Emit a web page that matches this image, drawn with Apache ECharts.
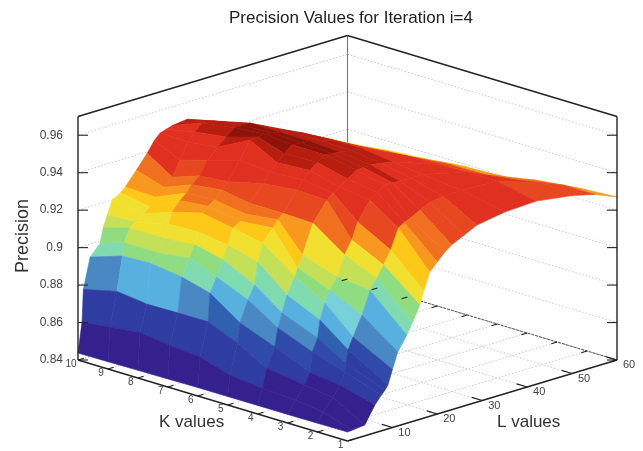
<!DOCTYPE html>
<html><head><meta charset="utf-8">
<style>html,body{margin:0;padding:0;background:#fff}#c{width:643px;height:451px;filter:blur(0.4px)}</style>
<script src="https://cdn.jsdelivr.net/npm/echarts@6/dist/echarts.min.js"></script>
</head><body><div id="c"></div>
<script>
const titleText = 'Precision Values for Iteration i=4';
const kValues = [1,2,3,4,5,6,7,8,9,10];
const lK1  = [0,1,3.85,6.1,7.5,8.3,9,10,11.2,13.2,14.5,16.1,17,18.3,20,21.7,23.2,26,28.8,35,42,50,55,60];
const zK1  = [.8448,.845,.8458,.8548,.859,.861,.8634,.871,.8795,.887,.893,.901,.908,.917,.9212,.9253,.928,.9313,.9345,.937,.9378,.935,.932,.927];
const lK2  = [0,1.2,3.4,5,6.1,6.3,6.8,7.9,9.9,11.7,13.2,14.7,16.3,18,19.3,20.6,22.8,25,28,32,40,50,55,60];
const zK2  = [.8447,.8498,.856,.8615,.8678,.8723,.879,.885,.8953,.9073,.9126,.9185,.9254,.936,.938,.9393,.942,.9446,.9455,.946,.945,.937,.932,.926];
const lK3  = [0,1.8,3.8,5,5.5,6.7,7.2,8.3,9.4,11,12.7,14.3,15.6,18.3,20,21.6,23.3,25,27.5,30,40,50,55,60];
const zK3  = [.8446,.851,.8576,.8635,.874,.8806,.8898,.8981,.904,.91,.9206,.9274,.9361,.9457,.9487,.9515,.9515,.951,.951,.951,.945,.934,.93,.924];
const lK4  = [0,1,2,3.8,4.5,5.4,6.5,8.3,8.9,10,12.3,15.4,16.8,18.3,20,22,23.5,25,27.5,30,40,50,55,60];
const zK4  = [.8446,.853,.863,.8731,.8827,.89,.8988,.9072,.9115,.9177,.933,.943,.9459,.948,.951,.9543,.9546,.955,.954,.953,.9445,.932,.927,.921];
const lK5  = [0,.5,2.2,2.7,4.5,6,6.7,7.8,10,11.2,12.3,15.4,16.8,18.3,20,21.6,23.3,25,27.5,30,40,50,55,60];
const zK5  = [.8445,.8557,.8715,.882,.8929,.8998,.9115,.9208,.9273,.9308,.9335,.9437,.948,.952,.955,.958,.9575,.957,.956,.955,.944,.932,.926,.919];
const lK6  = [0,.5,2.3,2.7,4.2,5.6,6.7,7.8,9.4,10.6,11.6,14.5,16,17.6,19.3,21,23,25,27.5,30,40,50,55,60];
const zK6  = [.8445,.8605,.878,.893,.9004,.9087,.9158,.924,.9265,.9295,.9345,.943,.948,.952,.9555,.959,.9585,.958,.9565,.955,.942,.93,.925,.919];
const lK7  = [0,.45,2.2,3.1,4.9,6,6.7,7.6,9,10.4,12,13.3,16,18.3,20,21.6,23.3,25,27.5,30,40,50,55,60];
const zK7  = [.8443,.862,.878,.8965,.9053,.9116,.918,.9274,.93,.9324,.9365,.94,.9495,.9586,.959,.9595,.959,.958,.956,.954,.941,.929,.923,.917];
const lK8  = [0,.45,2,2.7,4.9,5.8,7,7.6,9.4,10.8,12,13.8,15.5,17.8,19.7,21.6,23.3,25,27.5,30,40,50,55,60];
const zK8  = [.8441,.864,.878,.8994,.903,.9105,.917,.9231,.928,.931,.9345,.938,.945,.9505,.9545,.958,.958,.958,.955,.952,.94,.927,.922,.916];
const lK9  = [0,.45,2,3.2,3.6,4.9,6,8,9.4,10.5,12.5,14.4,16,17.8,19.4,21,22.5,24,27,30,40,50,55,60];
const zK9  = [.8439,.862,.88,.898,.9049,.9117,.9142,.917,.9197,.9242,.928,.932,.94,.9484,.9525,.9562,.956,.955,.952,.9485,.938,.926,.92,.914];
const lK10 = [0,.9,1.2,2.7,4.9,5.6,6.5,7.6,9.5,10.5,13,15.4,17,18.3,19.6,21,22.6,24.3,27,30,40,50,55,60];
const zK10 = [.8437,.8596,.8769,.893,.8988,.9064,.9127,.92,.9225,.9248,.932,.9393,.945,.948,.949,.95,.9505,.951,.9485,.946,.9355,.925,.919,.9126];
const zTicks = [0.84,0.86,0.88,0.9,0.92,0.94,0.96];
const kTicks = [1,2,3,4,5,6,7,8,9,10];
const lTicks = [10,20,30,40,50,60];
const colorStops = [.860,.872,.879,.8815,.8875,.895,.897,.901,.907,.913,.921,.926,.93,.934,.939,.953,.9575];
const colorMap = ['#35218d','#2f3da2','#2f4aa8','#3060b0','#4a88c4','#58b0de','#78d0d8','#80dcb0','#90dc80','#c4e058','#f2e030','#fdc818','#f8981e','#f07020','#e84820','#e03020','#b81e10','#8f120a'];

const lRows = [lK1,lK2,lK3,lK4,lK5,lK6,lK7,lK8,lK9,lK10];
const zRows = [zK1,zK2,zK3,zK4,zK5,zK6,zK7,zK8,zK9,zK10];
const K0=1,K1=10,L1=60,Z0=.84,Z1=.97,FLOOR=81,WALL=243.5;
// oblique projection of (K, L, precision) onto the plane of the hidden cartesian axes
function proj(k,l,z,du){
  const a=(k-K0)/(K1-K0), b=l/L1;
  return [0.5*(1-a+b)+(du||0), FLOOR*a+FLOOR*b+WALL*(z-Z0)/(Z1-Z0)];
}
function colorOf(z){ for(let i=0;i<colorStops.length;i++) if(z<colorStops[i]) return colorMap[i]; return colorMap[colorMap.length-1]; }

const rowCount=zK1.length;
const cells=[];
for(let ki=kValues.length-2;ki>=0;ki--) for(let r=rowCount-2;r>=0;r--) cells.push([ki,r]);
function renderCell(p,api){
  const c=cells[p.dataIndex], ki=c[0], r=c[1];
  const v=[[ki,r],[ki+1,r],[ki+1,r+1],[ki,r+1]];
  let sum=0; const pts=v.map(q=>{const z=zRows[q[0]][q[1]]; sum+=z; return api.coord(proj(kValues[q[0]],lRows[q[0]][q[1]],z));});
  const col=colorOf(sum/4);
  return {type:'polygon',shape:{points:pts},style:{fill:col,stroke:col,lineWidth:0.6}};
}

const bold={stroke:'#222',lineWidth:1.4}, gray={stroke:'#777',lineWidth:1.1}, dot={stroke:'#bbb',lineWidth:0.8,lineDash:[1.5,2]}, dark={stroke:'#555',lineWidth:1,lineDash:[3,1]}, tick={stroke:'#222',lineWidth:1.1};
const segs=[];
function seg(a,b,s){segs.push([a,b,s]);}
zTicks.forEach(z=>{
  seg([K1,0,z],[K1,L1,z],dot); seg([K1,L1,z],[K0,L1,z],dot);
});
kTicks.forEach(k=>seg([k,0,Z0],[k,L1,Z0],dot));
lTicks.forEach(l=>seg([K0,l,Z0],[K1,l,Z0],dot));
seg([K1,L1,Z0],[K1,L1,Z1],gray);
seg([K1,L1,Z0],[K0,L1,Z0],dark);
const frontSegs=[];
function fseg(a,b,s){frontSegs.push([a,b,s]);}
fseg([K1,0,Z0],[K1,0,Z1],bold); fseg([K0,L1,Z0],[K0,L1,Z1],bold);
fseg([K1,0,Z1],[K1,L1,Z1],bold); fseg([K1,L1,Z1],[K0,L1,Z1],bold);
fseg([K1,0,Z0],[K0,0,Z0],bold); fseg([K0,0,Z0],[K0,L1,Z0],bold);
zTicks.forEach(z=>{ fseg([K1,0,z],[K1,0,z,0.0186],tick); fseg([K0,L1,z],[K0,L1,z,-0.0186],tick); });
kTicks.forEach(k=>{ fseg([k,0,Z0],[k,1.3,Z0],tick); fseg([k,L1,Z0],[k,L1-1.3,Z0],tick); });
lTicks.forEach(l=>fseg([K0,l,Z0],[K0+0.35,l,Z0],tick));
function renderSeg(list){return function(p,api){
  const s=list[p.dataIndex], a=api.coord(proj.apply(null,s[0])), b=api.coord(proj.apply(null,s[1]));
  return {type:'line',shape:{x1:a[0],y1:a[1],x2:b[0],y2:b[1]},style:Object.assign({fill:null},s[2])};
};}

const labels=[];
zTicks.forEach(z=>labels.push({at:[K1,0,z],dx:-15,dy:0,t:String(z),align:'right',size:12}));
kTicks.forEach(k=>labels.push({at:[k,0,Z0],dx:-7,dy:4,t:String(k),align:'center',size:10}));
lTicks.forEach(l=>labels.push({at:[K0,l,Z0],dx:12,dy:5,t:String(l),align:'center',size:11}));
function renderLabel(p,api){
  const l=labels[p.dataIndex], a=api.coord(proj.apply(null,l.at));
  return {type:'text',x:a[0]+l.dx,y:a[1]+l.dy,style:{text:l.t,fill:'#444',font:l.size+'px "Liberation Sans"',textAlign:l.align,textVerticalAlign:'middle'}};
}
const idx=a=>a.map((_,i)=>[i]);
const custom=(list,fn,z)=>({type:'custom',coordinateSystem:'cartesian2d',clip:false,silent:true,z:z,data:idx(list),renderItem:fn,animation:false});

const chart=echarts.init(document.getElementById('c'),null,{renderer:'canvas'});
chart.setOption({
  animation:false,backgroundColor:'#fff',
  title:{text:titleText,left:346,top:5,textAlign:'center',textStyle:{fontFamily:'Liberation Sans',fontWeight:'normal',fontSize:17,color:'#222'}},
  grid:{left:78,right:26,top:35,bottom:10},
  xAxis:{type:'value',min:0,max:1,show:false},
  yAxis:{type:'value',min:0,max:406,show:false},
  series:[custom(segs,renderSeg(segs),1),custom(cells,renderCell,2),custom(frontSegs,renderSeg(frontSegs),3),custom(labels,renderLabel,4)],
  graphic:[
    {type:'text',left:159,top:414,style:{text:'K values',fill:'#333',font:'17px "Liberation Sans"'}},
    {type:'text',left:497,top:414,style:{text:'L values',fill:'#333',font:'17px "Liberation Sans"'}},
    {type:'text',x:23,y:236,rotation:Math.PI/2,style:{text:'Precision',fill:'#333',font:'18px "Liberation Sans"',textAlign:'center',textVerticalAlign:'middle'}}
  ]
});
</script></body></html>
